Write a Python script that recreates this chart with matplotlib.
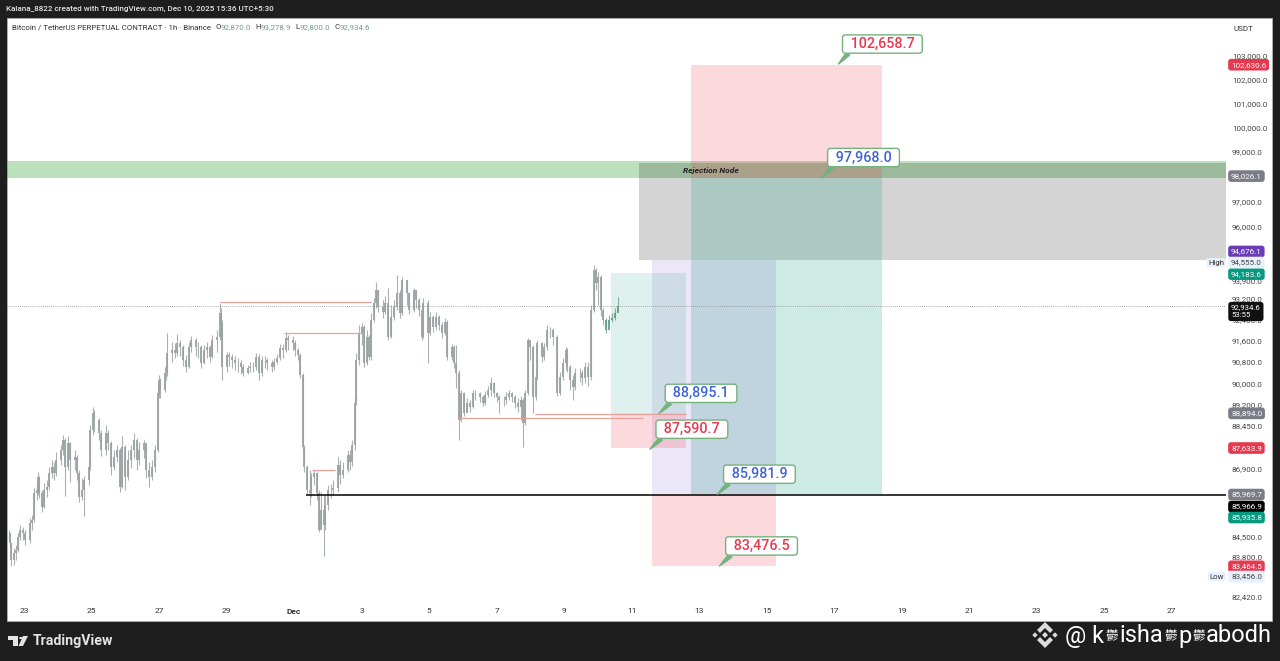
import matplotlib
matplotlib.use('Agg')
import matplotlib.pyplot as plt
from matplotlib.patches import Polygon, Rectangle, Circle
from matplotlib.ticker import NullLocator

plt.rcParams['font.family'] = ['Roboto', 'Noto Sans CJK SC', 'DejaVu Sans']

# hours since Nov 23 00:00
bar_hours = [
    -11, -10, -9, -7, -6, -4, -3, -1, 1, 4,
    6, 7, 9, 10, 11, 13, 14, 16, 18, 20,
    21, 23, 26, 28, 29, 31, 33, 36, 38, 39,
    41, 43, 46, 47, 49, 50, 53, 55, 58, 60,
    62, 64, 66, 68, 70, 72, 74, 76, 78, 80,
    82, 85, 87, 89, 91, 93, 95, 96, 97, 100,
    101, 102, 105, 107, 109, 111, 113, 115, 117, 119,
    122, 124, 126, 128, 130, 132, 134, 137, 139, 140,
    141, 144, 146, 148, 150, 152, 154, 156, 159, 161,
    163, 165, 167, 169, 171, 173, 176, 178, 180, 182,
    184, 186, 188, 191, 193, 195, 196, 198, 199, 201,
    203, 204, 206, 208, 210, 211, 213, 214, 216, 218,
    220, 223, 225, 227, 230, 232, 233, 235, 236, 238,
    240, 242, 244, 245, 247, 249, 250, 252, 255, 257,
    259, 261, 263, 265, 267, 269, 272, 274, 277, 279,
    281, 283, 284, 287, 289, 291, 293, 295, 297, 299,
    301, 304, 306, 307, 309, 311, 313, 315, 317, 319,
    321, 324, 326, 328, 330, 332, 334, 336, 338, 341,
    343, 345, 347, 349, 351, 353, 355, 356, 358, 360,
    362, 364, 365, 368, 370, 372, 374, 376, 379, 381,
    383, 385, 386, 388, 390, 392, 395, 397, 399, 401,
    403, 405, 407, 408, 410, 412, 414, 416, 418, 420,
    422,
]
closes = [
    84620, 84275, 83690, 83930, 84030, 84480, 84730, 84620, 84380, 84970,
    85080, 86030, 86140, 86600, 86030, 85530, 86140, 86240, 86740, 86950,
    86740, 87210, 87570, 87930, 86950, 87820, 87210, 87320, 86740, 85890,
    86140, 86490, 86950, 88290, 88910, 88650, 88180, 87570, 88180, 87820,
    86950, 87320, 87570, 86240, 87680, 86600, 87210, 87570, 87930, 87210,
    87570, 87820, 86850, 86600, 86950, 87570, 89650, 90130, 89760, 90390,
    90390, 91140, 91250, 91140, 91510, 91360, 90870, 90610, 91360, 91630,
    91360, 91360, 90760, 91250, 91360, 90990, 91630, 91740, 92650, 92270,
    90610, 91060, 90990, 90870, 90760, 90760, 90610, 90390, 90570, 90610,
    90610, 90990, 90390, 90870, 90870, 90760, 90610, 90800, 90950, 91330,
    91250, 91700, 91630, 91510, 91250, 91060, 90310, 87680, 86950, 86140,
    86030, 86600, 86740, 86030, 84730, 85430, 84900, 85600, 86140, 86140,
    86210, 87030, 86670, 86850, 87390, 87130, 87750, 89280, 90870, 91890,
    92120, 90760, 91740, 90990, 92380, 93030, 93530, 92880, 92690, 93030,
    91740, 92500, 92880, 93420, 92650, 93920, 93420, 92770, 93530, 93150,
    92770, 91740, 93030, 91890, 92500, 92120, 92500, 92190, 91890, 92310,
    90990, 91360, 90760, 90390, 88650, 89650, 88910, 89280, 89130, 89650,
    89650, 89500, 89280, 89570, 89760, 90020, 89650, 89500, 89390, 89390,
    89500, 89650, 89500, 89280, 89130, 89390, 88550, 89650, 91630, 91360,
    89500, 90240, 91510, 90990, 91360, 92000, 92000, 91740, 89650, 90240,
    90760, 91250, 90610, 90130, 89870, 90390, 90390, 90200, 90610, 90240,
    92770, 94310, 93800, 94040, 92770, 92380, 92000, 92380, 92460, 92650,
    92934.6,
]
highs = [
    84730, 84620, 84270, 84100, 84200, 84620, 84900, 84830, 84730, 85150,
    85250, 86210, 86380, 86780, 86640, 86140, 86380, 86490, 86950, 87210,
    87130, 87500, 87750, 88110, 88000, 88070, 87860, 87570, 87390, 86850,
    86560, 86640, 87210, 88470, 89130, 89020, 88730, 88290, 88470, 88290,
    87890, 87570, 87750, 87640, 88070, 87750, 87570, 87750, 88180, 88000,
    87860, 87930, 87820, 87130, 87210, 87750, 89940, 90310, 90200, 90610,
    90690, 91890, 91550, 91510, 91850, 91630, 91440, 91060, 91550, 91780,
    91700, 91550, 91440, 91440, 91550, 91440, 91820, 92000, 93030, 92840,
    92380, 91170, 91170, 91100, 91020, 90950, 90870, 90720, 90690, 90800,
    90800, 91140, 91100, 91020, 91020, 90950, 90870, 90950, 91100, 91480,
    91480, 91930, 91820, 91780, 91630, 91330, 91140, 90390, 87750, 87030,
    86850, 86740, 86850, 86780, 86140, 86070, 85960, 85960, 86310, 86350,
    86490, 87320, 87210, 87130, 87570, 87570, 87930, 89500, 91140, 92190,
    92270, 92190, 92000, 91820, 92650, 93220, 93840, 93530, 93150, 93300,
    93610, 92960, 93150, 94110, 93530, 94040, 93920, 93460, 93610, 93530,
    93220, 92840, 93220, 93150, 92690, 92570, 92690, 92570, 92310, 92460,
    92380, 91480, 91440, 91440, 90500, 89760, 89690, 89460, 89390, 89760,
    89760, 89690, 89570, 89720, 89900, 90240, 90050, 89690, 89570, 89530,
    89690, 89760, 89690, 89570, 89460, 89530, 89460, 89760, 91700, 91550,
    91440, 90420, 91630, 91550, 91510, 92190, 92120, 92080, 91820, 90420,
    90950, 91360, 91330, 90690, 90310, 90570, 90570, 90500, 90800, 90800,
    92960, 94500, 94380, 94230, 94110, 92840, 92460, 92570, 92650, 92840,
    93278.9,
]
lows = [
    84380, 84100, 83480, 83510, 83690, 83960, 84380, 84380, 84200, 84270,
    84730, 85010, 85780, 85960, 85850, 85360, 85500, 85890, 86140, 86560,
    86490, 86640, 87030, 87390, 85920, 86850, 86420, 86850, 86490, 85710,
    85780, 85220, 86310, 86850, 88110, 88220, 87930, 87350, 87390, 87570,
    86670, 86850, 87130, 86070, 86210, 86140, 86490, 86920, 87280, 86850,
    87030, 87280, 86560, 86240, 86490, 86780, 87500, 89460, 89460, 89690,
    90130, 90280, 90800, 90950, 91020, 91020, 90650, 90420, 90570, 91170,
    91020, 90950, 90570, 90720, 90950, 90800, 90950, 91170, 91630, 91630,
    90130, 90420, 90650, 90570, 90500, 90420, 90350, 90280, 90350, 90420,
    90420, 90500, 90130, 90280, 90570, 90500, 90420, 90500, 90720, 90870,
    90950, 91170, 91250, 91250, 91020, 90870, 90200, 87570, 86780, 86000,
    85600, 85890, 86310, 85780, 84660, 84900, 83830, 84730, 85430, 85850,
    85960, 86070, 86350, 86560, 86780, 86850, 86990, 87570, 89200, 90690,
    91440, 90610, 90690, 90870, 90870, 92310, 92840, 92690, 92460, 92610,
    91630, 91700, 92380, 92770, 92460, 92570, 92960, 92610, 92690, 92840,
    92540, 91630, 91700, 90760, 91820, 91930, 92000, 92000, 91700, 91820,
    90870, 90870, 90570, 89830, 87930, 88580, 88800, 88950, 88950, 89100,
    89390, 89310, 89170, 89210, 89500, 89530, 89500, 89310, 88910, 89170,
    89240, 89390, 89310, 89100, 88950, 88650, 87680, 88470, 89570, 90870,
    88910, 89390, 90130, 90800, 90870, 91250, 91700, 91440, 89530, 89570,
    90130, 90500, 90420, 89760, 89390, 89760, 90050, 89940, 90020, 89900,
    90130, 92690, 93530, 92960, 92540, 92190, 91890, 92190, 92310, 92380,
    92800,
]
last_green_bars = 5

x_ticks = [0, 48, 96, 144, 192, 240, 288, 336, 384, 432, 480, 528, 576, 624, 672, 720, 768, 816]
x_labels = ['23', '25', '27', '29', 'Dec', '3', '5', '7', '9', '11', '13', '15', '17', '19', '21', '23', '25', '27']

y_ticks = [103000, 102000, 101000, 100000, 99000, 97000, 96000, 93900, 93200, 92400, 91600,
           90800, 90000, 89200, 88450, 86900, 86100, 84500, 83800, 82420]

# price tags on the right axis
tag_prices = [102630.6, 98026.1, 94676.1, 94183.6, 88894.0, 87633.9, 85969.7, 85966.9, 85935.8, 83464.5]
tag_colors = ['#e63950', '#7b7d86', '#6a3db8', '#089981', '#7b7d86', '#e63950', '#7b7d86', '#000000', '#089981', '#e63950']
tag_shift = [0, 0, 9, -1, 0, 0, 0, -12, -22, 0]

# start hour, end hour, low, high, colour, alpha
zone_start = [-12.1, 437, 474, 474, 446.5, 446.5, 417, 417]
zone_end = [854.6, 854.6, 610, 610, 535, 535, 471, 471]
zone_low = [97968.0, 94676.1, 97968.0, 85981.9, 85981.9, 83476.5, 88894.0, 87633.9]
zone_high = [98640, 98560, 102630.6, 97968.0, 94676.1, 85981.9, 94183.6, 88894.0]
zone_color = ['#4caf50', '#000000', '#f23645', '#089981', '#673ab7', '#f23645', '#089981', '#f23645']
zone_alpha = [0.38, 0.17, 0.19, 0.2, 0.12, 0.19, 0.13, 0.19]

level_start = [139, 185, 205, 309, 363]
level_end = [247, 240, 221, 440, 471]
level_price = [93072, 91890, 86850, 88727, 88875]

note_hours = [579, 567, 451.5, 445, 493, 494.5]
note_prices = [102658.7, 97968.0, 88895.1, 87590.7, 85981.9, 83476.5]
note_colors = ['#e8384f', '#3d63d6', '#3d63d6', '#e8384f', '#3d63d6', '#e8384f']

W, H = 1280, 661
PT = 0.72


def fx(px):
    return px / W


def fy(py):
    return 1 - py / H


fig = plt.figure(figsize=(12.8, 6.61), dpi=100, facecolor='#1e1e1e')
fig.add_artist(Rectangle((fx(7), fy(621)), 1265 / W, 603 / H, transform=fig.transFigure, fc='white', ec='#b0b0b0', lw=0.6, zorder=-5))

ax = fig.add_axes([fx(7), fy(601), 1219 / W, 583 / H], facecolor='none')
ax.set_yscale('log')
ax.set_xlim(-12.1, 854.6)
ax.set_ylim(82280, 104625)
for s in ax.spines.values():
    s.set_visible(False)

for x0, x1, y0, y1, c, a in zip(zone_start, zone_end, zone_low, zone_high, zone_color, zone_alpha):
    ax.fill_between([x0, x1], y0, y1, color=c, alpha=a, lw=0, zorder=1)

# candles, the body of a bar runs from the previous close to its close
wick_col = ['#7fae9d' if i >= len(closes) - last_green_bars else '#aab1b0' for i in range(len(closes))]
body_col = ['#5f9f88' if i >= len(closes) - last_green_bars else '#9aa3a1' for i in range(len(closes))]
opens = [closes[0]] + closes[:-1]
ax.vlines(bar_hours, lows, highs, colors=wick_col, lw=0.8, zorder=2)
ax.vlines(bar_hours, opens, closes, colors=body_col, lw=1.3, zorder=2)

ax.hlines(level_price, level_start, level_end, colors='#e8a09c', lw=0.9, zorder=3)
ax.hlines(85969.7, 200.5, 854.6, colors='black', lw=1.1, zorder=4)
ax.axhline(92934.6, color='#8a8f8d', lw=0.6, ls=(0, (1, 1.5)), zorder=2)

ax.text(488, 98260, 'Rejection Node', fontsize=6, style='italic', weight='bold', color='#222222', zorder=5, va='center', ha='center')

ax.xaxis.set_minor_locator(NullLocator())
ax.yaxis.set_minor_locator(NullLocator())
ax.set_xticks(x_ticks)
ax.set_xticklabels(x_labels, fontsize=6, color='#333333')
ax.get_xticklabels()[4].set_fontweight('bold')
ax.tick_params(axis='x', length=0, pad=5)
ax.yaxis.tick_right()
ax.set_yticks(y_ticks)
ax.set_yticklabels([f'{v:,.1f}' for v in y_ticks], fontsize=5.8, color='#444444')
ax.tick_params(axis='y', length=0, pad=4.3)

ytrans = ax.get_yaxis_transform()


def tag(price, text, fc, tc, shift=0, size=5.8):
    ax.annotate(text, xy=(1, price), xycoords=ytrans, xytext=(5 * PT, shift * PT),
                textcoords='offset points', ha='left', va='center', fontsize=size, color=tc, annotation_clip=False,
                zorder=10, linespacing=1.35, bbox=dict(boxstyle='round,pad=0.35', fc=fc, ec='none'))


for p, c, s in zip(tag_prices, tag_colors, tag_shift):
    tag(p, f'{p:,.1f}', c, 'white', s)
tag(92934.6, '92,934.6\n53:55', '#101010', 'white', -6, size=5.6)
tag(94555.0, '94,555.0', '#e8f1fb', '#444444', 1)
tag(83456.0, '83,456.0', '#e8f1fb', '#444444', -10)
for p, label, s in [(94555.0, 'High', 1), (83456.0, 'Low', -10)]:
    ax.annotate(label, xy=(1, p), xycoords=ytrans, xytext=(-2 * PT, s * PT), textcoords='offset points',
                ha='right', va='center', fontsize=5.6, color='#333333', annotation_clip=False, zorder=10,
                bbox=dict(boxstyle='round,pad=0.2', fc='#e8f1fb', ec='none'))

for hx, p, c in zip(note_hours, note_prices, note_colors):
    dx = 44 if p > 100000 else 42
    ax.annotate(f'\u2009\u2009{p:,.1f}\u2009\u2009', xy=(hx, p), xytext=(dx * PT, 20 * PT), textcoords='offset points',
                ha='center', va='center', fontsize=10.3, weight='medium', color=c, zorder=8,
                bbox=dict(boxstyle='round,pad=0.15,rounding_size=0.2', fc='white', ec='#74b27e', lw=1),
                arrowprops=dict(arrowstyle='wedge,tail_width=0.28,shrink_factor=0.6', fc='#74b27e', ec='#74b27e',
                                shrinkA=0, shrinkB=0, relpos=(0.08, 0)))

fig.text(fx(6), fy(9), 'Kalana_8822 created with TradingView.com, Dec 10, 2025 15:36 UTC+5:30',
         fontsize=5.72, color='#e6e6e6', weight='medium', va='center')
header = fig.text(fx(12), fy(27), 'Bitcoin / TetherUS PERPETUAL CONTRACT · 1h · Binance', fontsize=5.7, color='#333333', va='center')
prev = header
ohlc = [('O', '92,870.0'), ('H', '93,278.9'), ('L', '92,800.0'), ('C', '92,934.6')]
gap = 3
for k, v in ohlc:
    t = ax.annotate(k, xy=(1, 0.5), xycoords=prev, xytext=(gap, 0), textcoords='offset points', fontsize=5.7,
                    color='#333333', va='center', annotation_clip=False)
    prev = ax.annotate(v, xy=(1, 0.5), xycoords=t, xytext=(0, 0), textcoords='offset points', fontsize=5.7,
                       color='#6f9f8c', va='center', annotation_clip=False)
fig.text(fx(1243), fy(29), 'USDT', fontsize=5.8, color='#333333', va='center', ha='center')


def poly(points, color):
    fig.add_artist(Polygon([(fx(a), fy(b)) for a, b in points], closed=True, fc=color, ec='none', transform=fig.transFigure))


# TradingView logo
logo = '#e4e4e4'
poly([(8, 636), (18, 636), (18, 646), (13, 646), (13, 640), (8, 640)], logo)
fig.add_artist(Circle((fx(21), fy(638)), 2 / W, fc=logo, ec='none', transform=fig.transFigure))
poly([(23, 636), (28, 636), (23, 646), (18.5, 646)], logo)
fig.text(fx(33), fy(641.5), 'TradingView', fontsize=10.2, weight='bold', color=logo, va='center')

# Binance mark
bn = '#dcdcdc'
for cx, r in [(1035, 2.7), (1055, 2.7), (1045, 3)]:
    poly([(cx - r, 635), (cx, 635 - r), (cx + r, 635), (cx, 635 + r)], bn)
poly([(1045, 622), (1053, 630), (1050, 633), (1045, 628), (1040, 633), (1037, 630)], bn)
poly([(1045, 648), (1053, 640), (1050, 637), (1045, 642), (1040, 637), (1037, 640)], bn)

pieces = [('@ k', 17), ('鬱', 9), ('isha', 17), ('鬱', 9), ('p', 17), ('鬱', 9), ('abodh', 17)]
prev = fig.text(fx(1065), fy(636), pieces[0][0], fontsize=pieces[0][1], color='white', va='center')
for s, size in pieces[1:]:
    prev = ax.annotate(s, xy=(1, 0.5), xycoords=prev, xytext=(0.9, 0), textcoords='offset points', fontsize=size,
                       color='white', va='center', annotation_clip=False)

fig.savefig('out.png', dpi=100, facecolor=fig.get_facecolor())
